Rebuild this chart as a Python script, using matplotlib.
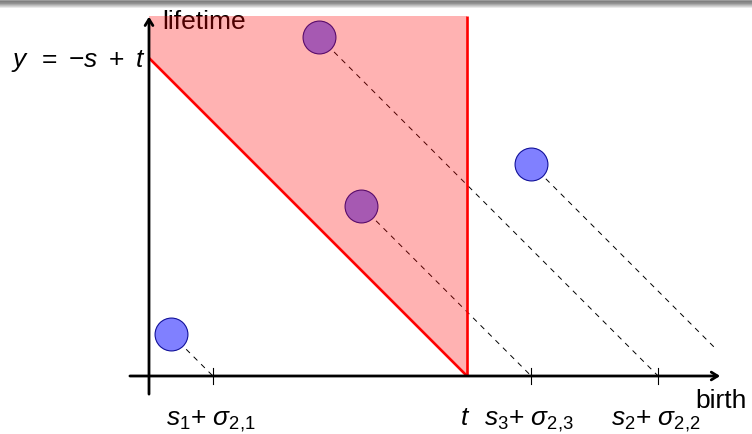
import numpy as np
import matplotlib
matplotlib.use("Agg")
import matplotlib.pyplot as plt

plt.rcParams['font.family'] = ['Liberation Sans', 'DejaVu Sans']
plt.rcParams['mathtext.fontset'] = 'custom'
plt.rcParams['mathtext.rm'] = 'Liberation Sans'
plt.rcParams['mathtext.it'] = 'Liberation Sans:italic'
plt.rcParams['lines.scale_dashes'] = False

# ---- data (birth, lifetime) of the diagram points, t = 1 ----
t = 1.0
births = [0.070, 0.535, 0.667, 1.201]
lifetimes = [0.131, 1.066, 0.535, 0.667]
tick_labels = [r'$s_1$+ $\sigma_{2{,}1}$', r'$s_2$+ $\sigma_{2{,}2}$',
               r'$s_3$+ $\sigma_{2{,}3}$', None]

# ---- figure: 1 data unit = 318 px ----
W, H, S = 752, 435, 318.0
ox, oy = 149, 377                      # pixel position of the origin
fig = plt.figure(figsize=(W/100, H/100), dpi=100)
ax = fig.add_axes([0, 0, 1, 1])
ax.set_xlim(-ox/S, (W-ox)/S)
ax.set_ylim(-(H-oy)/S, oy/S)
ax.axis('off')

top = 1.132                      # top of the shaded band
x_end, y_end = 1.796, 1.13       # arrow tips
dash_clip = 1.786

# shaded region y >= -s + t, s <= t
ax.fill([0, 0, t, t], [t, top, top, 0], color='red', alpha=0.3, lw=0, zorder=3)
ax.plot([0, t], [t, 0], color='red', lw=1.9, zorder=4, solid_capstyle='butt')
ax.plot([t, t], [0, top], color='red', lw=1.9, zorder=4, solid_capstyle='butt')

# points + dashed diagonals to the birth axis
b = np.array(births); d = np.array(lifetimes)
for bi, di in zip(b, d):
    xe = min(bi + di, dash_clip)
    ax.plot([bi, xe], [di, bi + di - xe], color='black', lw=0.7,
            ls=(0, (3.8, 3.8)), zorder=1)
ax.scatter(b, d, s=560, facecolor='#8080ff', edgecolor='#10109a',
           linewidths=0.8, zorder=2)

# ticks on the birth axis at birth + lifetime
for bi, di in zip(b[:3], d[:3]):
    ax.plot([bi + di]*2, [-0.024, 0.024], color='black', lw=0.8, zorder=5)

# axes with arrows
arr = dict(arrowstyle='->,head_length=0.45,head_width=0.28', lw=2.0,
           color='black', shrinkA=0, shrinkB=0)
ax.annotate('', xy=(x_end, 0), xytext=(-0.06, 0), arrowprops=arr,
            annotation_clip=False, zorder=6)
ax.annotate('', xy=(0, y_end), xytext=(0, -0.057), arrowprops=arr,
            annotation_clip=False, zorder=6)

fs = 19
ax.text(13/S, (oy-29)/S, 'lifetime', fontsize=fs, va='baseline', ha='left', zorder=2)
ax.text((695-ox)/S, (oy-408)/S, 'birth', fontsize=fs, va='baseline', ha='left')
ax.text(-3/S, (oy-67)/S, r'$y\ \,=\ {-}s\ +\ t$', fontsize=fs, va='baseline', ha='right')
yb = (oy-425)/S
ax.text(t - 2/S, yb, r'$t$', fontsize=fs, va='baseline', ha='center')
for bi, di, lab in zip(b, d, tick_labels):
    if lab:
        ax.text(bi + di - 2/S, yb, lab, fontsize=fs, va='baseline', ha='center')

# beamer-style shadow bar at the top
grad = np.interp(np.arange(10), [0, 2, 4, 9], [0.72, 0.5, 0.58, 1.0])
bar = fig.add_axes([0, 1 - 10/H, 1, 10/H])
bar.imshow(grad[:, None], cmap='gray', vmin=0, vmax=1, aspect='auto')
bar.axis('off')

fig.savefig('out.png', dpi=100)
